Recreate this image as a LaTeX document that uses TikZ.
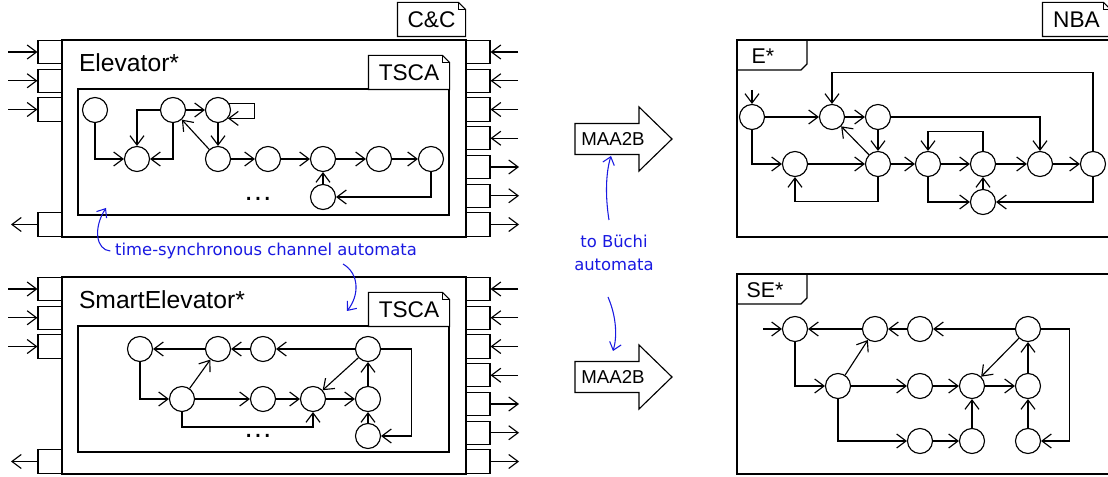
\documentclass[tikz,border=0pt]{standalone}
\usepackage{fontspec}
\setmainfont{Liberation Sans}
\newfontfamily\notefont{DejaVu Sans}
\usetikzlibrary{calc,arrows.meta}
\definecolor{notecol}{RGB}{25,25,225}

\begin{document}
\begin{tikzpicture}[x=0.75pt, y=-0.75pt, line width=0.85pt, >={Straight Barb[length=7pt,width=10.5pt]},
  st/.style={circle, draw, minimum size=18.75pt, inner sep=0pt},
  port/.style={draw, fill=white, minimum width=18pt, minimum height=17.5pt, inner sep=0pt},
  tag/.style={fill=white, minimum height=24.75pt, inner sep=0pt, font=\fontsize{17}{19}\selectfont},
  frame/.style={line width=1.05pt},
  note/.style={notecol, line width=0.8pt, font=\notefont\fontsize{12.3}{17}\selectfont, >={Straight Barb[length=5.5pt,width=9pt]}}]
  \useasboundingbox (0,0) rectangle (1108,477);
  \clip (0,0) rectangle (1108,477);

  % C&C components with ports
  \foreach \i/\oy/\lbl in {0/0/Elevator*,1/237/SmartElevator*} {
    \draw[frame] (62,40+\oy) rectangle (466,237+\oy);
    \draw[frame] (78,89+\oy) rectangle (449,215+\oy);
    \node[anchor=base west, font=\fontsize{18.5}{22}\selectfont] (cn\i) at (74,72+\oy) {\lbl};
    \node[tag, minimum width=60pt] (ta\i) at (409,72.5+\oy) {TSCA};
    \node[anchor=base, font=\fontsize{22}{24}\selectfont] (dd\i) at (258,201+\oy) {\dots};
    \foreach \k in {0,...,6} \node[port] (rp\i\k) at (478,52+28.75*\k+\oy) {};
    \foreach \k in {0,1,2,6} \node[port] (lp\i\k) at (50,52+28.75*\k+\oy) {};
    \foreach \k in {0,1,2} {
      \coordinate (li\i\k) at (8,52+28.75*\k+\oy);
      \draw[->] (li\i\k) -- (lp\i\k);
    }
    \coordinate (lo\i) at (11,224.5+\oy);
    \draw[->] (lp\i6) -- (lo\i);
    \foreach \k in {0,...,3} {
      \coordinate (ri\i\k) at (518,52+28.75*\k+\oy);
      \draw[->] (ri\i\k) -- (rp\i\k);
    }
    \foreach \k in {4,5,6} {
      \coordinate (ro\i\k) at (519,52+28.75*\k+\oy);
      \draw[->] (rp\i\k) -- (ro\i\k);
    }
  }
  \node[tag, minimum width=50.25pt] (cc) at (431.5,19.5) {C\&C};
  \node[tag, minimum width=50.25pt] (nba) at (1076.5,19.5) {NBA};
  \foreach \t in {cc,ta0,ta1,nba} {
    \draw (\t.south west) -- (\t.north west) -- ($(\t.north east)+(-7,0)$) -- ($(\t.north east)+(0,7)$) -- (\t.south east) -- cycle;
    \draw ($(\t.north east)+(-7,0)$) -- ($(\t.north east)+(-7,7)$) -- ($(\t.north east)+(0,7)$);
  }

  % Elevator* automaton
  \foreach \n/\x/\y in {s1/95/110, s2/137/159, s3/173/110, s4/218/110, s5/218/159,
      s6/268/159, s7/323/159, s8/379/159, s9/431/159, s10/323/197}
    \node[st] (\n) at (\x,\y) {};
  \foreach \a/\b in {s3/s4, s4/s5, s5/s3, s5/s6, s6/s7, s7/s8, s8/s9, s10/s7}
    \draw[->] (\a) -- (\b);
  \foreach \a/\b in {s1/s2, s3/s2, s9/s10}
    \draw[->] (\a) |- (\b);
  \draw[->] (s3) -| (s2);
  \draw[->] (s4.30) -- ++(25,0) |- (s4.-40);

  % SmartElevator* automaton
  \foreach \n/\x/\y in {t1/140/349, t2/218/349, t3/263/349, t4/368/349, t5/182/399,
      t6/263/399, t7/313/399, t8/368/399, t9/368/436}
    \node[st] (\n) at (\x,\y) {};
  \foreach \a/\b in {t2/t1, t3/t2, t4/t3, t5/t2, t5/t6, t6/t7, t7/t8, t4/t7, t8/t4, t9/t8}
    \draw[->] (\a) -- (\b);
  \draw[->] (t1) |- (t5);
  \draw[->] (t5.south) -- ++(0,15) -| (t7);
  \draw[->] (t4.east) -- ++(30.5,0) |- (t9);

  % translation arrows
  \foreach \i/\y in {1/139,2/377} {
    \draw (575,\y-15.5) -- (639,\y-15.5) -- (639,\y-32) -- (672,\y) -- (639,\y+32) -- (639,\y+15.5) -- (575,\y+15.5) -- cycle;
    \node[inner sep=1pt, font=\fontsize{14}{16}\selectfont] (mb\i) at (613,\y) {MAA2B};
  }

  % NBA frames
  \draw[frame] (737,40) rectangle (1125,237);
  \draw[frame] (737,70) -- (801,70) -- (807,64) -- (807,40);
  \node[font=\fontsize{16}{18}\selectfont] (en) at (763,56) {E*};
  \draw[frame] (737,274) rectangle (1125,474);
  \draw[frame] (737,304) -- (801,304) -- (807,298) -- (807,274);
  \node[font=\fontsize{16}{18}\selectfont] (sen) at (765,290) {SE*};

  % E* automaton
  \foreach \n/\x/\y in {e1/752/117, e2/832/117, e3/878/117, e4/795/164, e5/878/164,
      e6/928/164, e7/983/164, e8/1040/164, e9/1093/164, e10/983/202}
    \node[st] (\n) at (\x,\y) {};
  \coordinate (e0) at (752,90);
  \draw[->] (e0) -- (e1);
  \foreach \a/\b in {e1/e2, e2/e3, e3/e5, e5/e2, e4/e5, e5/e6, e6/e7, e7/e8, e8/e9, e10/e7}
    \draw[->] (\a) -- (\b);
  \foreach \a/\b in {e1/e4, e6/e10, e9/e10}
    \draw[->] (\a) |- (\b);
  \draw[->] (e3) -| (e8);
  \draw[->] (e5.south) -- ++(0,24.5) -| (e4);
  \draw[->] (e9.north) -- ++(0,-78.5) -| (e2);
  \draw[->] (e7.north) -- ++(0,-19.5) -| (e6);

  % SE* automaton
  \foreach \n/\x/\y in {f1/795/329, f2/875/329, f3/920/329, f4/1028/329, f5/838/386,
      f6/920/386, f7/972/386, f8/1028/386, f9/920/441, f10/972/441, f11/1028/441}
    \node[st] (\n) at (\x,\y) {};
  \coordinate (f0) at (763,329);
  \draw[->] (f0) -- (f1);
  \foreach \a/\b in {f2/f1, f3/f2, f4/f3, f5/f2, f5/f6, f6/f7, f7/f8, f4/f7, f8/f4, f9/f10, f10/f7, f11/f8}
    \draw[->] (\a) -- (\b);
  \foreach \a/\b in {f1/f5, f5/f9}
    \draw[->] (\a) |- (\b);
  \draw[->] (f4.east) -- ++(28.5,0) |- (f11);

  % notes
  \node[note] (ts) at (266,251) {time-synchronous channel automata};
  \coordinate (tsa) at (106,208);
  \coordinate (tsb0) at (343,264);
  \coordinate (tsb) at (347,311);
  \draw[note,->] (ts.west) .. controls (96,250) and (93,228) .. (tsa);
  \draw[note,->] (tsb0) .. controls (360,274) and (359,296) .. (tsb);
  \node[note, align=center] (bu) at (614,253) {to Büchi\\automata};
  \coordinate (bu1) at (609,220);
  \coordinate (mbs1) at (611,156);
  \coordinate (bu2) at (608,297);
  \coordinate (mbs2) at (613,351);
  \draw[note,->] (bu1) .. controls (605,195) and (606,172) .. (mbs1);
  \draw[note,->] (bu2) .. controls (617,318) and (617,338) .. (mbs2);
\end{tikzpicture}
\end{document}
